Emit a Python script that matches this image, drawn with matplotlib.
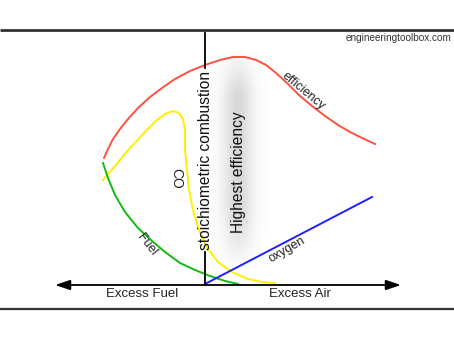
import numpy as np
import matplotlib
matplotlib.use("Agg")
import matplotlib.pyplot as plt

plt.rcParams['font.family'] = ['Liberation Sans', 'DejaVu Sans']

# Schematic combustion curves: x = air ratio offset from stoichiometric (0),
# y = relative level above the baseline
eff_x = [-101, -97, -92, -85, -77, -67, -55, -43, -30, -15, 0, 15, 28, 40, 51, 61,
         71, 83, 95, 107, 120, 133, 145, 157, 170]
eff_y = [127, 136, 146, 156, 166, 177, 188, 197, 206, 214, 220, 225, 228, 228, 225, 220,
         212, 201, 189, 179, 169, 160, 153, 147, 141]

co_x = [-102, -90, -75, -60, -48, -40, -32, -26, -22, -20, -20, -18, -16, -12, -6, 2,
        13, 27, 43, 57, 70]
co_y = [105, 119, 137, 153, 165, 171, 174, 172, 166, 155, 135, 115, 95, 75, 55, 37,
        23, 13, 6, 3, 2]

fuel_x = [-102, -97, -90, -80, -67, -53, -40, -25, -10, 5, 20, 33]
fuel_y = [122, 107, 90, 73, 57, 44, 33, 22, 15, 9, 4, 1]

oxy_x = [0, 167]
oxy_y = [1, 88]

fig = plt.figure(figsize=(4.54, 3.41), dpi=100)
ax = fig.add_axes([0, 0, 1, 1])
ax.set_xlim(-205, 249)
ax.set_ylim(-56, 285)
ax.axis('off')

# soft gray band marking the region of highest efficiency
gx = np.linspace(-205, 249, 454)
gy = np.linspace(-56, 285, 341)
GX, GY = np.meshgrid(gx, gy)
horiz = np.exp(-((GX - 33) / 15.0) ** 2)
vert = np.clip((GY - 15) / 55.0, 0, 1) * np.clip((236 - GY) / 45.0, 0, 1)
rgba = np.zeros(GX.shape + (4,))
rgba[..., :3] = 0.5
rgba[..., 3] = 0.30 * horiz * vert
ax.imshow(rgba, extent=(-205, 249, -56, 285), origin='lower', aspect='auto',
          interpolation='bilinear', zorder=1)

# frame rules
ax.plot([-205, 249], [255, 255], color='#333333', lw=2.0, zorder=2, solid_capstyle='butt')
ax.plot([-205, 249], [-24, -24], color='#333333', lw=1.6, zorder=2, solid_capstyle='butt')

# curves
ax.plot(eff_x, eff_y, color='#ff5040', lw=1.4, zorder=3)
ax.plot(co_x, co_y, color='#ffee00', lw=1.4, zorder=3)
ax.plot(fuel_x, fuel_y, color='#11bb11', lw=1.4, zorder=3)
ax.plot(oxy_x, oxy_y, color='#2020ff', lw=1.4, zorder=3)

# stoichiometric line (broken around its label)
ax.plot([0, 0], [0, 33], color='black', lw=1.3, zorder=4)
ax.plot([0, 0], [217, 252], color='black', lw=1.3, zorder=4)

# double-headed axis arrow
ax.annotate('', xy=(-150, 0), xytext=(0, 0),
            arrowprops=dict(arrowstyle='-|>,head_length=0.9,head_width=0.3',
                            color='black', lw=1.3, shrinkA=0, shrinkB=0), zorder=5)
ax.annotate('', xy=(196, 0), xytext=(0, 0),
            arrowprops=dict(arrowstyle='-|>,head_length=0.9,head_width=0.3',
                            color='black', lw=1.3, shrinkA=0, shrinkB=0), zorder=5)

fs = 9.5
ax.text(-63, -9, 'Excess Fuel', fontsize=fs, ha='center', va='center', color='#222222')
ax.text(95, -9, 'Excess Air', fontsize=fs, ha='center', va='center', color='#222222')
ax.text(0, 125, 'stoichiometric combustion', fontsize=11.2, rotation=90,
        ha='center', va='center', color='#111111', zorder=6)
ax.text(33, 113, 'Highest efficiency', fontsize=11.2, rotation=90,
        ha='center', va='center', color='#111111', zorder=6)
ax.text(98, 194, 'efficiency', fontsize=9, rotation=-40,
        ha='center', va='center', color='#222222', zorder=6)
ax.text(-29, 107, 'CO', fontsize=10, rotation=-90,
        ha='center', va='center', color='#222222', zorder=6)
ax.text(-58, 40, 'Fuel', fontsize=9, rotation=-52,
        ha='center', va='center', color='#222222', zorder=6)
ax.text(82, 35, 'oxygen', fontsize=9, rotation=30,
        ha='center', va='center', color='#222222', zorder=6)
ax.text(247, 247, 'engineeringtoolbox.com', fontsize=7.2, ha='right', va='center',
        color='#333333', zorder=6)

fig.savefig('out.png', dpi=100)
